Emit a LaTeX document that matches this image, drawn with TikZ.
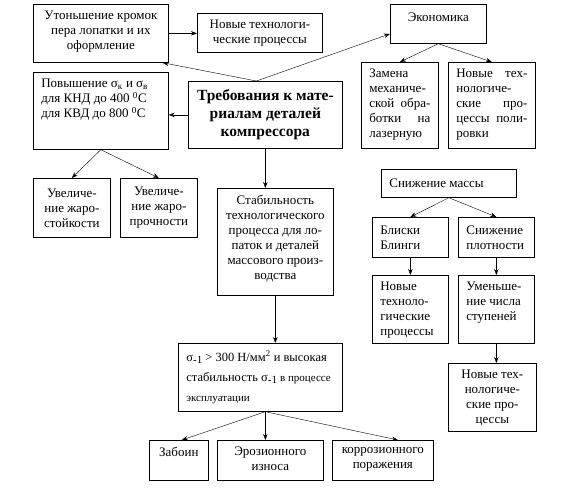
\documentclass[tikz,border=0pt]{standalone}
\usepackage{fontspec}
\setmainfont{Liberation Serif}
\usetikzlibrary{arrows.meta}
\newcommand{\cell}[4][t]{\parbox[c][#3][#1]{#2}{#4}}
\newcommand{\sigm}{σ\raisebox{-2pt}{\fontsize{11}{11}\selectfont -1}}
\begin{document}
\begin{tikzpicture}[x=1pt,y=-1pt,
    every node/.style={font=\fontsize{13}{15}\selectfont},
    blk/.style={draw, line width=0.7pt, inner xsep=3pt, inner ysep=7pt, anchor=north west},
    lft/.style={blk, inner xsep=8pt},
    >={Stealth[length=6pt,width=4.5pt]}]
  \useasboundingbox (0,0) rectangle (564,490);
  \node[blk] (ut) at (33,4) {\cell{129pt}{44pt}{\centering Утоньшение кромок\\ пера лопатки и их\\ оформление}};
  \node[blk] (nt1) at (197,13) {\cell[c]{119pt}{25pt}{\centering Новые технологи-\\ ческие процессы}};
  \node[blk] (eco) at (390,4) {\cell{90pt}{25pt}{\centering\vspace{2pt}Экономика}};
  \node[lft] (zam) at (361,62) {\cell{61pt}{72pt}{Замена\\ механиче-\\ ской\hfill обра-\\ ботки\hfill на\\ лазерную}};
  \node[lft] (pol) at (448,62) {\cell{71pt}{72pt}{Новые\hfill тех-\\ нологиче-\\ ские\hfill про-\\ цессы\hfill поли-\\ ровки}};
  \node[lft] (pov) at (33,72) {\cell{119pt}{63pt}{Повышение σ\textsubscript{к} и σ\textsubscript{в}\\ для КНД до 400 \textsuperscript{0}С\\ для КВД до 800 \textsuperscript{0}С}};
  \node[blk] (main) at (188,81) {\cell[c]{148pt}{53pt}{\centering\fontsize{15.5}{18}\selectfont\bfseries Требования к мате-\\ риалам деталей\\ компрессора}};
  \node[blk] (zs) at (33,178) {\cell[c]{71pt}{45pt}{\centering Увеличе-\\ ние жаро-\\ стойкости}};
  \node[blk] (zp) at (120,178) {\cell[c]{71pt}{45pt}{\centering Увеличе-\\ ние жаро-\\ прочности}};
  \node[blk] (stab) at (217,188) {\cell{110pt}{93pt}{\centering Стабильность\\ технологического\\ процесса для ло-\\ паток и деталей\\ массового произ-\\ водства}};
  \node[lft] (mass) at (381,169) {\cell[c]{119pt}{14pt}{Снижение массы}};
  \node[lft] (bli) at (372,217) {\cell[c]{60pt}{26pt}{Блиски\\ Блинги}};
  \node[lft] (plot) at (458,217) {\cell[c]{60pt}{26pt}{Снижение\\ плотности}};
  \node[lft] (ntp) at (372,275) {\cell{60pt}{54pt}{Новые\\ техноло-\\ гические\\ процессы}};
  \node[lft] (um) at (458,275) {\cell{60pt}{54pt}{Уменьше-\\ ние числа\\ ступеней}};
  \node[blk] (ntb) at (448,363) {\cell{82pt}{54pt}{\centering Новые тех-\\ нологиче-\\ ские про-\\ цессы}};
  \node[lft] (sig) at (178,343) {\cell[c]{148pt}{54pt}{\fontsize{12.5}{20}\selectfont \sigm{} > 300 Н/мм\textsuperscript{2} и высокая\\ стабильность \sigm{} {\fontsize{11}{20}\selectfont в процессе}\\ {\fontsize{11}{20}\selectfont эксплуатации}}};
  \node[blk] (zab) at (149,440) {\cell{53pt}{26pt}{\centering Забоин}};
  \node[blk] (ero) at (217,440) {\cell{100pt}{26pt}{\centering Эрозионного\\ износа}};
  \node[blk] (kor) at (332,440) {\cell{95pt}{26pt}{\centering коррозионного\\ поражения}};
  \draw[->] ([xshift=-9pt]main.north) -- ([xshift=-6pt]ut.south east);
  \draw[->] ([xshift=-9pt]main.north) -- ([yshift=-10pt]eco.west);
  \draw[->] (ut.east) -- (ut.east -| nt1.west);
  \draw[->] (main.west) -- (main.west -| pov.east);
  \draw[->] (eco.south) -- (zam.north);
  \draw[->] (eco.south) -- (pol.north);
  \draw[->] (pov.south) -- (zs.north);
  \draw[->] (pov.south) -- (zp.north);
  \draw[->] (main.south) -- (main.south |- stab.north);
  \draw[->] (stab.south) -- (stab.south |- sig.north);
  \draw[->] (mass.south) -- (bli.north);
  \draw[->] (mass.south) -- (plot.north);
  \draw[->] (bli.south) -- (ntp.north);
  \draw[->] (plot.south) -- (um.north);
  \draw[->] (um.south) -- (um.south |- ntb.north);
  \draw[->] ([xshift=5pt]sig.south) -- ([xshift=3pt]zab.north);
  \draw[->] ([xshift=5pt]sig.south) -- ([xshift=5pt]sig.south |- ero.north);
  \draw[->] ([xshift=5pt]sig.south) -- ([xshift=15pt]kor.north);
\end{tikzpicture}
\end{document}
